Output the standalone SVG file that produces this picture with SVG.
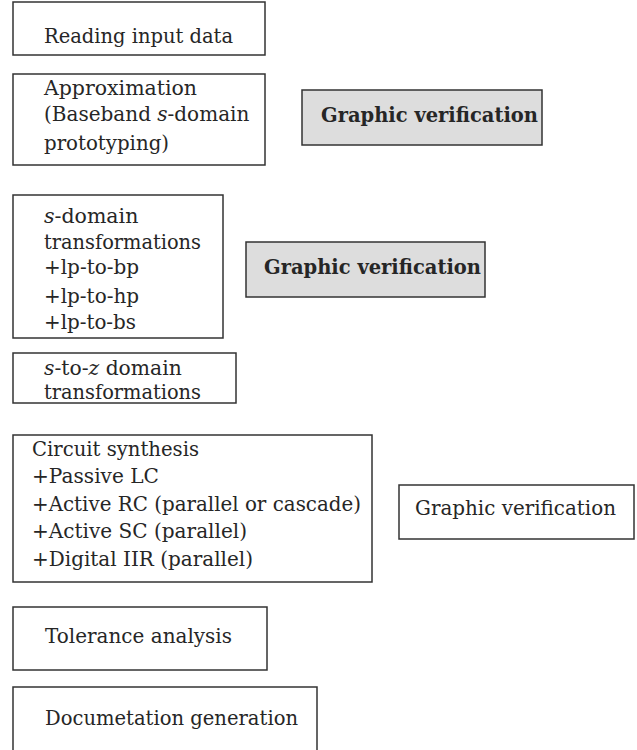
<svg xmlns="http://www.w3.org/2000/svg" width="637" height="750" viewBox="0 0 637 750">
  <style>
    .box { fill: #ffffff; stroke: #333333; stroke-width: 1.5; }
    .hl { fill: #dddddd; stroke: #333333; stroke-width: 1.5; }
    .b { font-weight: bold; }
    .i { font-style: italic; }
  </style>
  <rect width="637" height="750" fill="#ffffff"/>

  <!-- plain lines keep their printed extent through textLength; lines with italic symbols are sized directly -->
  <g font-family="DejaVu Serif, serif" font-size="21" fill="#262626">
  <g id="reading-input">
    <rect class="box" x="13" y="2" width="252" height="53"/>
    <text x="44" y="43" textLength="189" lengthAdjust="spacingAndGlyphs">Reading input data</text>
  </g>

  <g id="approximation">
    <rect class="box" x="13" y="74" width="252" height="91"/>
    <text x="44" y="95" textLength="153" lengthAdjust="spacingAndGlyphs">Approximation</text>
    <text x="44" y="121" font-size="20">(Baseband <tspan class="i">s</tspan>-domain</text>
    <text x="44" y="150" textLength="125" lengthAdjust="spacingAndGlyphs">prototyping)</text>
  </g>

  <g id="verify-approx">
    <rect class="hl" x="302" y="90" width="240" height="55"/>
    <text class="b" x="321" y="122" textLength="217" lengthAdjust="spacingAndGlyphs">Graphic verification</text>
  </g>

  <g id="s-domain">
    <rect class="box" x="13" y="195" width="210" height="143"/>
    <text x="44" y="223" font-size="20.5"><tspan class="i">s</tspan>-domain</text>
    <text x="44" y="249" textLength="157" lengthAdjust="spacingAndGlyphs">transformations</text>
    <text x="44" y="274" textLength="95" lengthAdjust="spacingAndGlyphs">+lp-to-bp</text>
    <text x="44" y="303" textLength="95" lengthAdjust="spacingAndGlyphs">+lp-to-hp</text>
    <text x="44" y="329" textLength="92" lengthAdjust="spacingAndGlyphs">+lp-to-bs</text>
  </g>

  <g id="verify-s-domain">
    <rect class="hl" x="246" y="242" width="239" height="55"/>
    <text class="b" x="264" y="274" textLength="217" lengthAdjust="spacingAndGlyphs">Graphic verification</text>
  </g>

  <g id="s-to-z">
    <rect class="box" x="13" y="353" width="223" height="50"/>
    <text x="44" y="375" font-size="20.3"><tspan class="i">s</tspan>-to-<tspan class="i">z</tspan> domain</text>
    <text x="44" y="399" textLength="157" lengthAdjust="spacingAndGlyphs">transformations</text>
  </g>

  <g id="circuit-synthesis">
    <rect class="box" x="13" y="435" width="359" height="147"/>
    <text x="32" y="456" textLength="167" lengthAdjust="spacingAndGlyphs">Circuit synthesis</text>
    <text x="32" y="483" textLength="127" lengthAdjust="spacingAndGlyphs">+Passive LC</text>
    <text x="32" y="511" textLength="329" lengthAdjust="spacingAndGlyphs">+Active RC (parallel or cascade)</text>
    <text x="32" y="538" textLength="215" lengthAdjust="spacingAndGlyphs">+Active SC (parallel)</text>
    <text x="32" y="566" textLength="221" lengthAdjust="spacingAndGlyphs">+Digital IIR (parallel)</text>
  </g>

  <g id="verify-circuit">
    <rect class="box" x="399" y="485" width="235" height="54"/>
    <text x="415" y="515" textLength="201" lengthAdjust="spacingAndGlyphs">Graphic verification</text>
  </g>

  <g id="tolerance">
    <rect class="box" x="13" y="607" width="254" height="63"/>
    <text x="45" y="643" textLength="187" lengthAdjust="spacingAndGlyphs">Tolerance analysis</text>
  </g>

  <g id="documentation">
    <path class="box" d="M13 751 V687 H317 V751"/>
    <text x="45" y="725" textLength="253" lengthAdjust="spacingAndGlyphs">Documetation generation</text>
  </g>
  </g>

  <g id="connectors"></g>
</svg>
